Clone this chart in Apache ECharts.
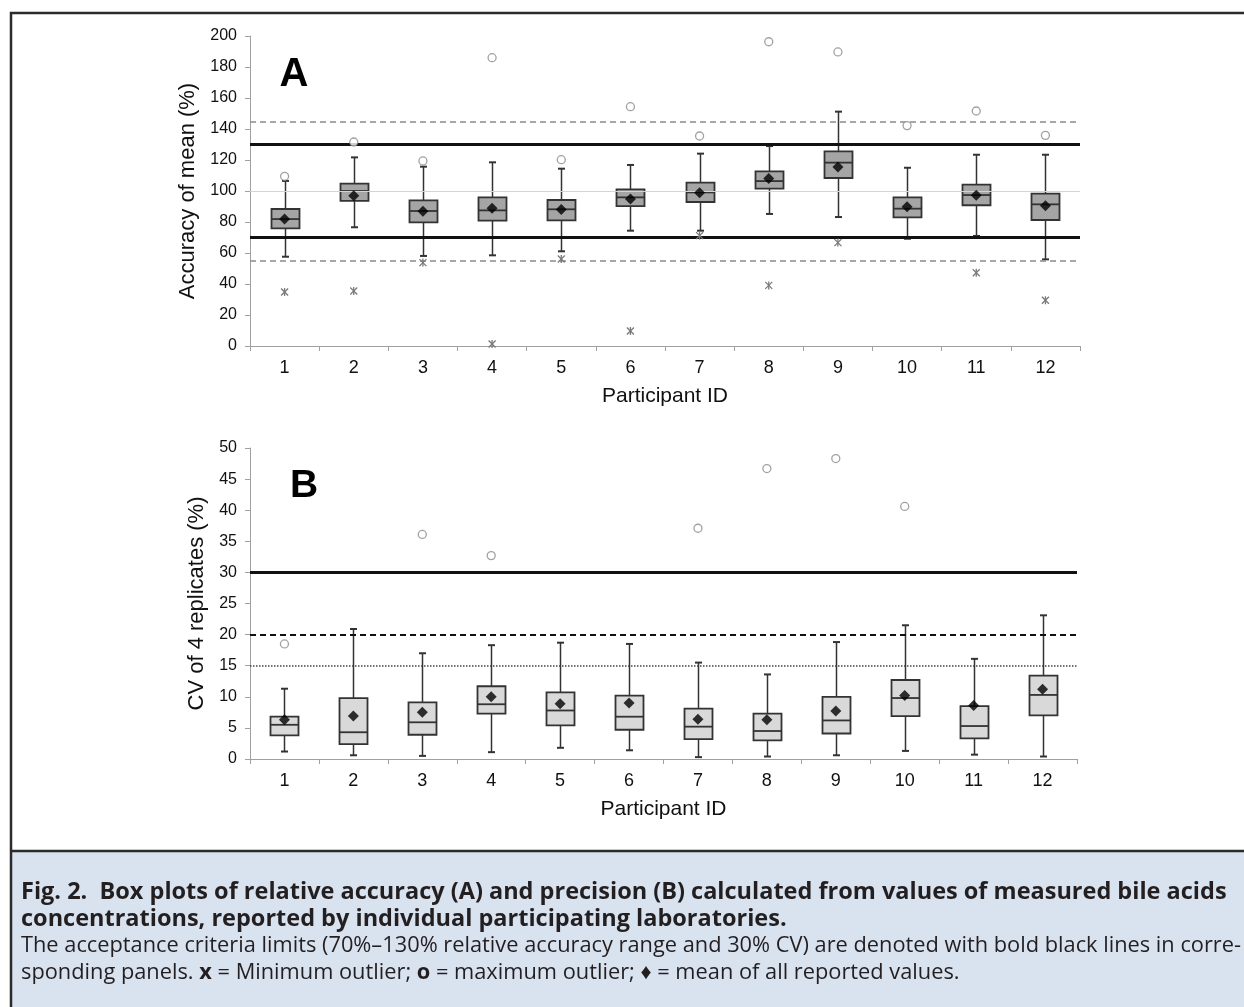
<!DOCTYPE html>
<html><head><meta charset="utf-8">
<script src="https://cdn.jsdelivr.net/npm/echarts@6/dist/echarts.min.js"></script>
<style>html,body{margin:0;padding:0;background:#fff}#c{width:1244px;height:1007px}</style>
</head><body><div id="c"></div>
<script>
// ---------- data ----------
const participants = ['1','2','3','4','5','6','7','8','9','10','11','12'];

// Panel A: accuracy of mean (%)
const accWhiskerLow  = [57.6, 76.6, 58.1, 58.5, 61.1, 74.4, 74.4, 85.2, 83.2, 69.2, 71.0, 55.9];
const accQ1          = [75.9, 93.6, 79.8, 80.9, 81.1, 90.3, 92.9, 101.5, 108.4, 83.0, 90.8, 81.3];
const accMedian      = [81.9, 100.0, 87.1, 87.5, 88.2, 95.9, 99.1, 106.4, 118.3, 88.6, 97.4, 91.4];
const accQ3          = [88.4, 104.7, 94.0, 95.9, 94.2, 101.0, 105.4, 112.7, 125.6, 95.9, 104.1, 98.3];
const accWhiskerHigh = [106.5, 121.7, 115.7, 118.5, 114.4, 116.8, 124.1, 129.0, 151.2, 115.0, 123.4, 123.4];
const accMean        = [82.0, 97.0, 87.0, 88.8, 88.0, 94.8, 98.9, 108.0, 115.5, 89.9, 97.2, 90.5];
const accMaxOutlier  = [109.5, 131.6, 119.4, 186.0, 120.2, 154.4, 135.5, 196.3, 189.7, 142.2, 151.6, 135.9];
const accMinOutlier  = [34.8, 35.5, 53.8, 1.3, 56.1, 9.7, 71.2, 39.1, 66.7, null, 47.3, 29.5];
const accLimitLines  = [70, 130];
const accWarnLines   = [55, 145];
const accGridLines   = [100];
const accTicks       = [0, 200, 20];

// Panel B: CV of 4 replicates (%)
const cvWhiskerLow  = [1.2, 0.6, 0.5, 1.1, 1.8, 1.4, 0.3, 0.4, 0.6, 1.3, 0.7, 0.4];
const cvQ1          = [3.8, 2.4, 3.9, 7.3, 5.4, 4.7, 3.2, 3.0, 4.1, 6.9, 3.3, 7.0];
const cvMedian      = [5.5, 4.3, 5.9, 8.8, 7.8, 6.8, 5.2, 4.5, 6.2, 9.8, 5.3, 10.3];
const cvQ3          = [6.8, 9.8, 9.1, 11.7, 10.7, 10.2, 8.1, 7.3, 10.0, 12.7, 8.5, 13.4];
const cvWhiskerHigh = [11.3, 20.9, 17.0, 18.3, 18.7, 18.5, 15.5, 13.6, 18.8, 21.5, 16.1, 23.1];
const cvMean        = [6.3, 6.9, 7.5, 10.0, 8.9, 9.0, 6.4, 6.3, 7.7, 10.2, 8.6, 11.2];
const cvMaxOutlier  = [18.5, null, 36.1, 32.7, null, null, 37.1, 46.7, 48.3, 40.6, null, null];
const cvLimitLines  = [30];
const cvDashedLines = [20];
const cvDottedLines = [15];
const cvTicks       = [0, 50, 5];

// ---------- helpers ----------
const FONT = '"Liberation Sans", Arial, sans-serif';
const CAP = '"Open Sans", sans-serif';
const pairs = arr => arr.map((v, i) => [i, v]).filter(p => p[1] != null);
const boxData = (lo, q1, md, q3, hi) => lo.map((v, i) => [i, v, q1[i], md[i], q3[i], hi[i]]);

function boxRender(fill) {
  return function (params, api) {
    const i = api.value(0);
    const lo = api.coord([i, api.value(1)]);
    const q1 = api.coord([i, api.value(2)]);
    const md = api.coord([i, api.value(3)]);
    const q3 = api.coord([i, api.value(4)]);
    const hi = api.coord([i, api.value(5)]);
    const cx = Math.round(lo[0]) + 0.5, hw = 14, cw = 3.5;
    const ls = { stroke: '#333', lineWidth: 1.5 };
    return { type: 'group', children: [
      { type: 'line', shape: { x1: cx, y1: hi[1], x2: cx, y2: q3[1] }, style: ls },
      { type: 'line', shape: { x1: cx, y1: q1[1], x2: cx, y2: lo[1] }, style: ls },
      { type: 'line', shape: { x1: cx - cw, y1: hi[1], x2: cx + cw, y2: hi[1] }, style: { stroke: '#333', lineWidth: 2 } },
      { type: 'line', shape: { x1: cx - cw, y1: lo[1], x2: cx + cw, y2: lo[1] }, style: { stroke: '#333', lineWidth: 2 } },
      { type: 'rect', shape: { x: cx - hw, y: q3[1], width: 2 * hw, height: q1[1] - q3[1] },
        style: { fill: fill, stroke: '#333', lineWidth: 1.8 } },
      { type: 'line', shape: { x1: cx - hw, y1: md[1], x2: cx + hw, y2: md[1] }, style: { stroke: '#333', lineWidth: 1.8 } }
    ]};
  };
}
function starRender(params, api) {
  const p = api.coord([api.value(0), api.value(1)]);
  const r = 3.5, s = { stroke: '#7a7a7a', lineWidth: 1.3 };
  return { type: 'group', children: [
    { type: 'line', shape: { x1: p[0] - r, y1: p[1] - r, x2: p[0] + r, y2: p[1] + r }, style: s },
    { type: 'line', shape: { x1: p[0] - r, y1: p[1] + r, x2: p[0] + r, y2: p[1] - r }, style: s },
    { type: 'line', shape: { x1: p[0], y1: p[1] - r - 0.5, x2: p[0], y2: p[1] + r + 0.5 }, style: s }
  ]};
}
function refLines(vals, style) {
  return vals.map(v => ({ yAxis: v, lineStyle: style }));
}

const xAxisBase = (gi) => ({
  type: 'category', gridIndex: gi, data: participants,
  name: 'Participant ID', nameLocation: 'middle', nameGap: 40,
  nameTextStyle: { fontSize: 21, color: '#111', fontFamily: FONT },
  axisLine: { lineStyle: { color: '#a0a0a0', width: 1 } },
  axisTick: { show: true, length: 5, lineStyle: { color: '#a0a0a0' } },
  axisLabel: { fontSize: 18, color: '#111', fontFamily: FONT, margin: 13 },
  splitLine: { show: false }
});
const yAxisBase = (gi, t, name, gap) => ({
  type: 'value', gridIndex: gi, min: t[0], max: t[1], interval: t[2],
  name: name, nameLocation: 'middle', nameRotate: 90, nameGap: gap,
  nameTextStyle: { fontSize: 22, color: '#111', fontFamily: FONT },
  axisLine: { show: true, lineStyle: { color: '#a0a0a0', width: 1 } },
  axisTick: { show: true, length: 5, lineStyle: { color: '#a0a0a0' } },
  axisLabel: { fontSize: 16, color: '#111', fontFamily: FONT, margin: 13 },
  splitLine: { show: false }
});

const chart = echarts.init(document.getElementById('c'), null, { renderer: 'canvas' });
const option = {
  animation: false,
  backgroundColor: '#fff',
  grid: [
    { left: 250, right: 164, top: 36, height: 310 },
    { left: 250, right: 167, top: 448, height: 311 }
  ],
  xAxis: [xAxisBase(0), xAxisBase(1)],
  yAxis: [
    yAxisBase(0, accTicks, 'Accuracy of mean (%)', 41),
    yAxisBase(1, cvTicks, 'CV of 4 replicates (%)', 38)
  ],
  series: [
    // ---- panel A ----
    { type: 'custom', name: 'refA', xAxisIndex: 0, yAxisIndex: 0, data: [], z: 1,
      markLine: { silent: true, symbol: 'none', label: { show: false }, animation: false,
        data: [].concat(
          refLines(accGridLines, { color: '#d4d4d4', width: 1, type: 'solid' }),
          refLines(accWarnLines, { color: '#8a8a8a', width: 1.5, type: [6, 4] }),
          refLines(accLimitLines, { color: '#111', width: 3, type: 'solid' })
        ) },
      renderItem: () => null },
    { type: 'custom', name: 'boxA', xAxisIndex: 0, yAxisIndex: 0, z: 3,
      data: boxData(accWhiskerLow, accQ1, accMedian, accQ3, accWhiskerHigh),
      encode: { x: 0, y: [1, 2, 3, 4, 5] }, renderItem: boxRender('#a5a5a5') },
    { type: 'scatter', name: 'meanA', xAxisIndex: 0, yAxisIndex: 0, z: 5,
      symbol: 'diamond', symbolSize: 11, itemStyle: { color: '#000' }, data: pairs(accMean) },
    { type: 'scatter', name: 'maxA', xAxisIndex: 0, yAxisIndex: 0, z: 5,
      symbol: 'circle', symbolSize: 8, itemStyle: { color: '#fff', borderColor: '#8a8a8a', borderWidth: 1.3 },
      data: pairs(accMaxOutlier) },
    { type: 'custom', name: 'minA', xAxisIndex: 0, yAxisIndex: 0, z: 5,
      data: pairs(accMinOutlier), renderItem: starRender },
    // ---- panel B ----
    { type: 'custom', name: 'refB', xAxisIndex: 1, yAxisIndex: 1, data: [], z: 1,
      markLine: { silent: true, symbol: 'none', label: { show: false }, animation: false,
        data: [].concat(
          refLines(cvDottedLines, { color: '#444', width: 1.5, type: [1.5, 1.5] }),
          refLines(cvDashedLines, { color: '#111', width: 1.8, type: [6, 4] }),
          refLines(cvLimitLines, { color: '#111', width: 3, type: 'solid' })
        ) },
      renderItem: () => null },
    { type: 'custom', name: 'boxB', xAxisIndex: 1, yAxisIndex: 1, z: 3,
      data: boxData(cvWhiskerLow, cvQ1, cvMedian, cvQ3, cvWhiskerHigh),
      encode: { x: 0, y: [1, 2, 3, 4, 5] }, renderItem: boxRender('#d9d9d9') },
    { type: 'scatter', name: 'meanB', xAxisIndex: 1, yAxisIndex: 1, z: 5,
      symbol: 'diamond', symbolSize: 11, itemStyle: { color: '#000' }, data: pairs(cvMean) },
    { type: 'scatter', name: 'maxB', xAxisIndex: 1, yAxisIndex: 1, z: 5,
      symbol: 'circle', symbolSize: 8, itemStyle: { color: '#fff', borderColor: '#8a8a8a', borderWidth: 1.3 },
      data: pairs(cvMaxOutlier) }
  ],
  graphic: [
    { type: 'rect', z: -10, shape: { x: 11, y: 851, width: 1300, height: 200 }, style: { fill: '#d9e2ef' } },
    { type: 'rect', z: 100, shape: { x: 11, y: 13, width: 1300, height: 1100 }, style: { fill: 'none', stroke: '#2b2b2b', lineWidth: 2.5 } },
    { type: 'line', z: 100, shape: { x1: 11, y1: 851, x2: 1300, y2: 851 }, style: { stroke: '#2b2b2b', lineWidth: 2.5 } },
    { type: 'text', z: 50, x: 294, y: 74.5, style: { text: 'A', fontSize: 40, fontWeight: 'bold', fontFamily: FONT, fill: '#000', align: 'center', verticalAlign: 'middle' } },
    { type: 'text', z: 50, x: 304, y: 486, style: { text: 'B', fontSize: 39, fontWeight: 'bold', fontFamily: FONT, fill: '#000', align: 'center', verticalAlign: 'middle' } },
    { type: 'text', z: 50, x: 21, y: 892, style: { text: 'Fig. 2.  Box plots of relative accuracy (A) and precision (B) calculated from values of measured bile acids', fontSize: 23.5, fontWeight: 'bold', fontFamily: CAP, fill: '#231f20', align: 'left', verticalAlign: 'middle' } },
    { type: 'text', z: 50, x: 21, y: 919, style: { text: 'concentrations, reported by individual participating laboratories.', fontSize: 23.5, fontWeight: 'bold', fontFamily: CAP, fill: '#231f20', align: 'left', verticalAlign: 'middle' } },
    { type: 'text', z: 50, x: 21, y: 946, style: { text: 'The acceptance criteria limits (70%–130% relative accuracy range and 30% CV) are denoted with bold black lines in corre-', fontSize: 21.8, fontFamily: CAP, fill: '#231f20', align: 'left', verticalAlign: 'middle' } },
    { type: 'text', z: 50, x: 21, y: 973, style: { text: 'sponding panels. {b|x} = Minimum outlier; {b|o} = maximum outlier; {d|♦} = mean of all reported values.', fontSize: 21.8, fontFamily: CAP, fill: '#231f20', align: 'left', verticalAlign: 'middle',
      rich: { b: { fontSize: 21.8, fontWeight: 'bold', fontFamily: CAP, fill: '#231f20' }, d: { fontSize: 21.8, fontFamily: CAP, fill: '#231f20' } } } }
  ]
};
chart.setOption(option);
</script>
</body></html>
